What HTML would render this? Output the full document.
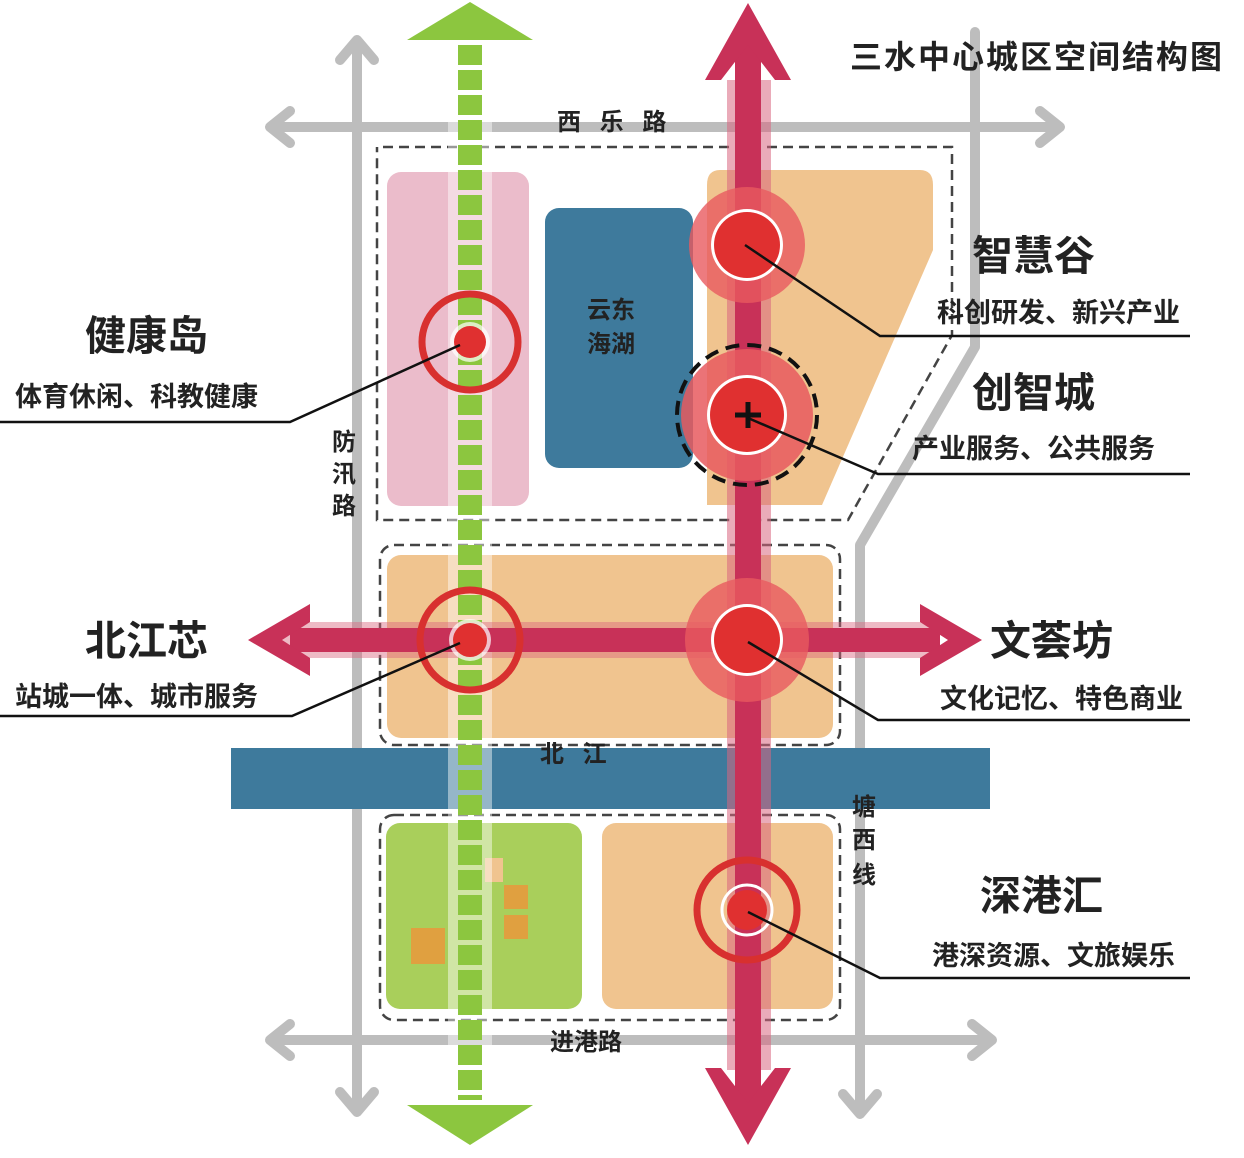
<!DOCTYPE html>
<html><head><meta charset="utf-8"><style>
body{margin:0;background:#fff}
svg{display:block}
text{font-family:"Liberation Sans","Noto Sans CJK SC",sans-serif;font-weight:bold;fill:#222}
</style></head><body>
<svg width="1244" height="1158" viewBox="0 0 1244 1158">
<g stroke="#bdbdbd" stroke-width="10" fill="none" stroke-linecap="round" stroke-linejoin="round">
<line x1="357" y1="42" x2="357" y2="1110"/>
<polyline points="340,60 357,40 374,60"/>
<polyline points="340,1092 357,1112 374,1092"/>
<line x1="272" y1="127" x2="1058" y2="127"/>
<polyline points="290,111 270,127 290,143"/>
<polyline points="1040,111 1060,127 1040,143"/>
<line x1="272" y1="1040" x2="990" y2="1040"/>
<polyline points="290,1024 270,1040 290,1056"/>
<polyline points="972,1024 992,1040 972,1056"/>
<polyline points="860,1112 860,545 975,347 975,32"/>
<polyline points="843,1094 860,1114 877,1094"/>
</g>
<path d="M383,147 H952 V335 L848,520 H377 V147" fill="none" stroke="#444" stroke-width="2.5" stroke-dasharray="10,6"/>
<rect x="380" y="545" width="460" height="200" rx="14" fill="none" stroke="#444" stroke-width="2.5" stroke-dasharray="10,6"/>
<rect x="380" y="815" width="460" height="205" rx="14" fill="none" stroke="#444" stroke-width="2.5" stroke-dasharray="10,6"/>
<rect x="387" y="172" width="142" height="334" rx="14" fill="#ebbccb"/>
<rect x="545" y="208" width="148" height="260" rx="14" fill="#3e7a9c"/>
<path d="M720,170 H920 Q933,170 933,185 V250 L822,505 H707 V185 Q707,170 720,170Z" fill="#f0c48f"/>
<rect x="387" y="555" width="446" height="183" rx="14" fill="#f0c48f"/>
<rect x="231" y="748" width="759" height="61" fill="#3e7a9c"/>
<rect x="386" y="823" width="196" height="186" rx="14" fill="#a9cf5b"/>
<rect x="602" y="823" width="231" height="186" rx="14" fill="#f0c48f"/>
<rect x="411" y="928" width="34" height="36" fill="#e0a040"/>
<rect x="504" y="885" width="24" height="24" fill="#e0a040"/>
<rect x="504" y="915" width="24" height="24" fill="#e0a040"/>
<rect x="485" y="858" width="18" height="24" fill="#f0c48f"/>
<rect x="448" y="45" width="44" height="1060" fill="#fff" opacity="0.45"/>
<line x1="470" y1="45" x2="470" y2="1100" stroke="#8cc63f" stroke-width="24" stroke-dasharray="20,5"/>
<polygon points="407,40 533,40 470,2" fill="#8cc63f"/>
<polygon points="407,1105 533,1105 470,1145" fill="#8cc63f"/>
<rect x="727" y="80" width="44" height="990" fill="#d9667f" opacity="0.55"/>
<rect x="280" y="622" width="660" height="36" fill="#d9667f" opacity="0.45"/>
<line x1="748" y1="40" x2="748" y2="1110" stroke="#c83158" stroke-width="26"/>
<polygon points="705,80 748,3 791,80 775,80 748,45 721,80" fill="#c83158"/>
<polygon points="705,1068 748,1145 791,1068 775,1068 748,1103 721,1068" fill="#c83158"/>
<line x1="290" y1="640" x2="940" y2="640" stroke="#c83158" stroke-width="24"/>
<polygon points="310,604 248,640 310,676 310,658 282,640 310,622" fill="#c83158"/>
<polygon points="920,604 982,640 920,676 920,658 948,640 920,622" fill="#c83158"/>
<circle cx="470" cy="342" r="48" fill="none" stroke="#d8302f" stroke-width="7"/>
<circle cx="470" cy="342" r="20" fill="#fff" opacity="0.7"/>
<circle cx="470" cy="342" r="16" fill="#e03030"/>
<circle cx="470" cy="640" r="50" fill="none" stroke="#d8302f" stroke-width="7"/>
<circle cx="470" cy="640" r="21" fill="#fff" opacity="0.7"/>
<circle cx="470" cy="640" r="17" fill="#e03030"/>
<circle cx="747" cy="245" r="58" fill="#e85a5f" opacity="0.8"/>
<circle cx="747" cy="245" r="36" fill="#fff"/>
<circle cx="747" cy="245" r="33" fill="#e03030"/>
<circle cx="747" cy="415" r="70" fill="none" stroke="#111" stroke-width="4" stroke-dasharray="14,8"/>
<circle cx="747" cy="415" r="66" fill="#e85a5f" opacity="0.85"/>
<circle cx="747" cy="415" r="40" fill="#fff"/>
<circle cx="747" cy="415" r="37" fill="#e03030"/>
<path d="M735,415 H761 M748,402 V428" stroke="#111" stroke-width="5"/>
<circle cx="747" cy="640" r="62" fill="#e85a5f" opacity="0.8"/>
<circle cx="747" cy="640" r="36" fill="#fff"/>
<circle cx="747" cy="640" r="33" fill="#e03030"/>
<circle cx="747" cy="910" r="50" fill="none" stroke="#d8302f" stroke-width="7"/>
<circle cx="747" cy="910" r="25" fill="none" stroke="#fff" stroke-width="3"/>
<circle cx="747" cy="910" r="20" fill="#e03030"/>
<g stroke="#111" stroke-width="2.5" fill="none">
<polyline points="460,345 290,422 0,422"/>
<polyline points="460,643 292,716 0,716"/>
<polyline points="745,245 880,336 1190,336"/>
<polyline points="748,418 878,474 1190,474"/>
<polyline points="748,642 878,720 1190,720"/>
<polyline points="748,912 880,978 1190,978"/>
</g>
<text x="850" y="68" font-size="32" letter-spacing="2">三水中心城区空间结构图</text>
<text x="557" y="130" font-size="24" letter-spacing="6">西 乐 路</text>
<text x="550" y="1050" font-size="24">进港路</text>
<text x="540" y="762" font-size="24" letter-spacing="6">北 江</text>
<g font-size="24"><text x="332" y="450">防</text><text x="332" y="482">汛</text><text x="332" y="514">路</text>
<text x="852" y="815">塘</text><text x="852" y="848">西</text><text x="852" y="883">线</text></g>
<text x="587" y="318" font-size="24">云东</text>
<text x="587" y="352" font-size="24">海湖</text>
<text x="85" y="350" font-size="41">健康岛</text>
<text x="15" y="406" font-size="27">体育休闲、科教健康</text>
<text x="85" y="655" font-size="41">北江芯</text>
<text x="15" y="706" font-size="27">站城一体、城市服务</text>
<text x="972" y="270" font-size="41">智慧谷</text>
<text x="937" y="322" font-size="27">科创研发、新兴产业</text>
<text x="972" y="407" font-size="41">创智城</text>
<text x="912" y="458" font-size="27">产业服务、公共服务</text>
<text x="990" y="655" font-size="41">文荟坊</text>
<text x="940" y="708" font-size="27">文化记忆、特色商业</text>
<text x="980" y="910" font-size="41">深港汇</text>
<text x="932" y="965" font-size="27">港深资源、文旅娱乐</text>
</svg>
</body></html>
